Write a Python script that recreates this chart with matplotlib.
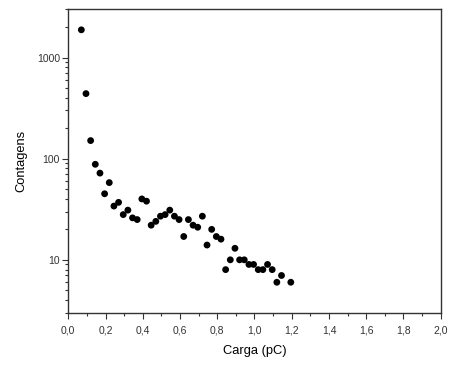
import matplotlib
matplotlib.use("Agg")
import matplotlib.pyplot as plt
from matplotlib.ticker import FixedLocator, FuncFormatter, LogLocator, NullFormatter, MultipleLocator

carga = [0.07, 0.095, 0.12, 0.145, 0.17, 0.195, 0.22, 0.245, 0.27, 0.295,
         0.32, 0.345, 0.37, 0.395, 0.42, 0.445, 0.47, 0.495, 0.52, 0.545,
         0.57, 0.595, 0.62, 0.645, 0.67, 0.695, 0.72, 0.745, 0.77, 0.795,
         0.82, 0.845, 0.87, 0.895, 0.92, 0.945, 0.97, 0.995, 1.02, 1.045,
         1.07, 1.095, 1.12, 1.145, 1.195]
contagens = [1880, 440, 151, 88, 72, 45, 58, 34, 37, 28,
             31, 26, 25, 40, 38, 22, 24, 27, 28, 31,
             27, 25, 17, 25, 22, 21, 27, 14, 20, 17,
             16, 8, 10, 13, 10, 10, 9, 9, 8, 8,
             9, 8, 6, 7, 6]
xticks = [0.0, 0.2, 0.4, 0.6, 0.8, 1.0, 1.2, 1.4, 1.6, 1.8, 2.0]
yticks = [10, 100, 1000]

plt.rcParams['font.family'] = ['Liberation Sans', 'DejaVu Sans']

fig = plt.figure(figsize=(4.51, 3.65), dpi=100)
ax = fig.add_axes([68.3/451, 1-312.7/365, (440.7-68.3)/451, (312.7-9.3)/365])
ax.scatter(carga, contagens, s=24, color='black', edgecolors='none', zorder=3)
ax.set_yscale('log')
ax.set_xlim(0, 2.0)
ax.set_ylim(3, 3000)
ax.xaxis.set_major_locator(FixedLocator(xticks))
ax.xaxis.set_minor_locator(MultipleLocator(0.1))
ax.xaxis.set_major_formatter(FuncFormatter(lambda v, p: f"{v:.1f}".replace('.', ',')))
ax.yaxis.set_major_locator(FixedLocator(yticks))
ax.yaxis.set_major_formatter(FuncFormatter(lambda v, p: f"{int(round(v))}"))
ax.yaxis.set_minor_locator(LogLocator(base=10, subs=range(2, 10), numticks=20))
ax.yaxis.set_minor_formatter(NullFormatter())
for s in ax.spines.values():
    s.set_color('#333333')
    s.set_linewidth(1.0)
ax.tick_params(which='major', direction='out', length=4, width=0.8, labelsize=7.5, colors='#333333', labelcolor='#333333')
ax.tick_params(which='minor', direction='out', length=2.4, width=0.8, colors='#333333')
ax.tick_params(axis='x', which='major', pad=5)
ax.tick_params(axis='y', which='major', pad=2)
ax.set_xlabel('Carga (pC)', fontsize=9.3, labelpad=7)
ax.set_ylabel('Contagens', fontsize=9.3, labelpad=7)
fig.savefig('out.png', dpi=100)
